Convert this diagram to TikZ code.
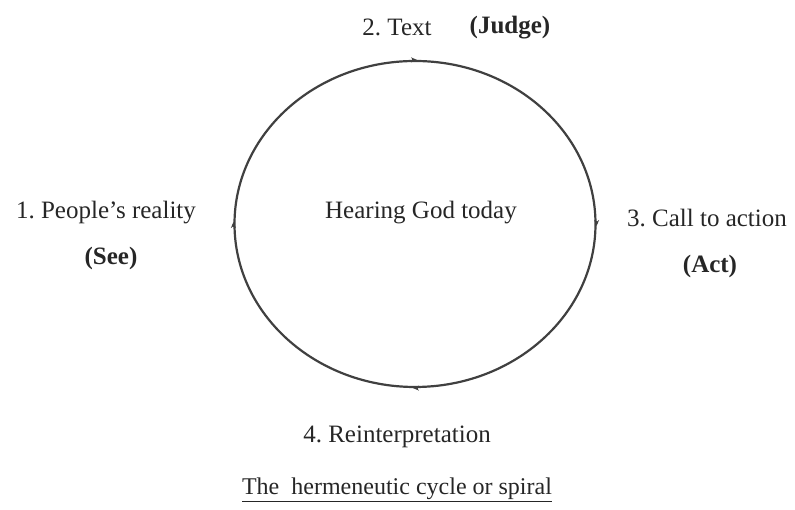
\documentclass[tikz,border=0pt]{standalone}
\usepackage{fontspec}
\setmainfont{Liberation Serif}
\usetikzlibrary{arrows.meta,shapes.geometric}
\begin{document}
\frenchspacing
\begin{tikzpicture}[x=1pt,y=1pt,
  lbl/.style={inner sep=0pt,font=\fontsize{25}{28}\selectfont,text=black!85},
  blbl/.style={inner sep=0pt,font=\fontsize{25}{28}\selectfont\bfseries,text=black!85},
  tip/.style={draw=black!75,line width=1.2pt,-{Stealth[length=6pt,width=5pt]}}]
\useasboundingbox (0,0) rectangle (795,510);
\node[ellipse,draw=black!75,line width=2.2pt,minimum width=361pt,minimum height=326pt,inner sep=0pt] (cyc) at (415,286) {};
\coordinate (t) at (cyc.north);
\coordinate (r) at (cyc.east);
\coordinate (b) at (cyc.south);
\coordinate (l) at (cyc.west);
\draw[tip] ([xshift=-3pt]t) -- ([xshift=2pt]t);
\draw[tip] ([yshift=3pt]r) -- ([yshift=-2pt]r);
\draw[tip] ([xshift=3pt]b) -- ([xshift=-2pt]b);
\draw[tip] ([yshift=-3pt]l) -- ([yshift=2pt]l);
\node[lbl] (text) at (397,483) {2. Text};
\node[blbl] (judge) at (510,482) {(Judge)};
\node[lbl] (people) at (106,297) {1. People's reality};
\node[blbl] (see) at (111,252) {(See)};
\node[lbl] (hear) at (421,297) {Hearing God today};
\node[lbl] (call) at (707,292) {3. Call to action};
\node[blbl] (act) at (710,244) {(Act)};
\node[lbl] (re) at (397,73) {4. Reinterpretation};
\node[lbl,font=\fontsize{24}{27}\selectfont] (title) at (397,20) {\underline{The\ \ hermeneutic cycle or spiral}};
\end{tikzpicture}
\end{document}
